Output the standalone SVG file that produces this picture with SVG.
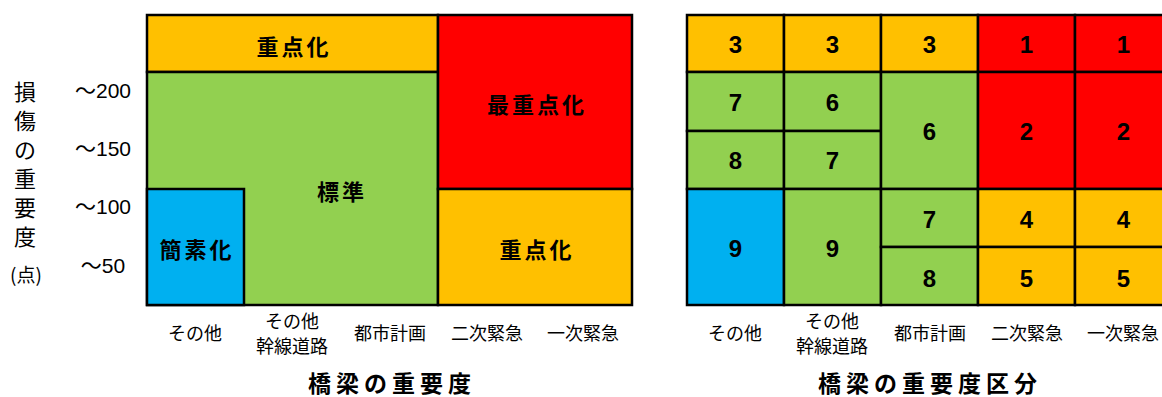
<svg xmlns="http://www.w3.org/2000/svg" width="1162" height="397" viewBox="0 0 1162 397">
<style>
.c{stroke:#000;stroke-width:2.5}
.o{fill:#FFC000}.g{fill:#92D050}.r{fill:#FF0000}.b{fill:#00B0F0}
text{font-family:"Noto Sans CJK JP","Noto Sans",sans-serif;fill:#000;text-anchor:middle;dominant-baseline:central}
.lb{font-size:22px;font-weight:bold;letter-spacing:3px}
.n{font-size:24px;font-weight:bold;font-family:"Liberation Sans Narrow","Liberation Sans","Noto Sans CJK JP",sans-serif}
.ax{font-size:18px}
.yv{font-size:22px}
.tk{font-size:21px;font-family:"Liberation Sans","Noto Sans CJK JP",sans-serif}
.tt{font-size:23px;font-weight:bold;letter-spacing:5px}
</style>
<rect width="1162" height="397" fill="#fff"/>
<g id="yaxis">
<text class="yv" x="25" y="90">損</text>
<text class="yv" x="25" y="119">傷</text>
<text class="yv" x="25" y="148">の</text>
<text class="yv" x="25" y="177">重</text>
<text class="yv" x="25" y="206">要</text>
<text class="yv" x="25" y="235">度</text>
<text x="26" y="273" style="font-size:19px;font-family:'Noto Sans CJK JP',serif">(点)</text>
<text class="tk" x="103" y="90">～200</text>
<text class="tk" x="103" y="148">～150</text>
<text class="tk" x="103" y="206">～100</text>
<text class="tk" x="103" y="265">～50</text>
</g>
<g id="left-chart">
<g id="L-top"><rect class="c o" x="147" y="15" width="291" height="57"/><text class="lb" x="294" y="45">重点化</text></g>
<g id="L-std"><rect class="c g" x="147" y="72" width="291" height="233"/><text class="lb" x="342" y="190">標準</text></g>
<g id="L-simple"><rect class="c b" x="147" y="189" width="97" height="116"/><text class="lb" x="197" y="248">簡素化</text></g>
<g id="L-most"><rect class="c r" x="438" y="15" width="194" height="174"/><text class="lb" x="537" y="103">最重点化</text></g>
<g id="L-imp"><rect class="c o" x="438" y="189" width="194" height="116"/><text class="lb" x="537" y="248">重点化</text></g>
</g>
<g id="left-xaxis">
<text class="ax" x="195" y="332">その他</text>
<text class="ax" x="292" y="320">その他</text>
<text class="ax" x="292" y="345">幹線道路</text>
<text class="ax" x="390" y="332">都市計画</text>
<text class="ax" x="487" y="332">二次緊急</text>
<text class="ax" x="583" y="332">一次緊急</text>
<text class="tt" x="392" y="382">橋梁の重要度</text>
</g>
<g id="right-chart">
<g id="R-c0r0"><rect class="c o" x="687" y="15" width="97" height="57"/><text class="n" x="735.5" y="44">3</text></g>
<g id="R-c1r0"><rect class="c o" x="784" y="15" width="97" height="57"/><text class="n" x="832.5" y="44">3</text></g>
<g id="R-c2r0"><rect class="c o" x="881" y="15" width="97" height="57"/><text class="n" x="929.5" y="44">3</text></g>
<g id="R-c3r0"><rect class="c r" x="978" y="15" width="97" height="57"/><text class="n" x="1026.5" y="44">1</text></g>
<g id="R-c4r0"><rect class="c r" x="1075" y="15" width="97" height="57"/><text class="n" x="1123.5" y="44">1</text></g>
<g id="R-c0r1"><rect class="c g" x="687" y="72" width="97" height="59"/><text class="n" x="735.5" y="102">7</text></g>
<g id="R-c0r2"><rect class="c g" x="687" y="131" width="97" height="58"/><text class="n" x="735.5" y="160">8</text></g>
<g id="R-c0r3"><rect class="c b" x="687" y="189" width="97" height="116"/><text class="n" x="735.5" y="248">9</text></g>
<g id="R-c1r1"><rect class="c g" x="784" y="72" width="97" height="59"/><text class="n" x="832.5" y="102">6</text></g>
<g id="R-c1r2"><rect class="c g" x="784" y="131" width="97" height="58"/><text class="n" x="832.5" y="160">7</text></g>
<g id="R-c1r3"><rect class="c g" x="784" y="189" width="97" height="116"/><text class="n" x="832.5" y="248">9</text></g>
<g id="R-c2r1"><rect class="c g" x="881" y="72" width="97" height="117"/><text class="n" x="929.5" y="131">6</text></g>
<g id="R-c2r3"><rect class="c g" x="881" y="189" width="97" height="58"/><text class="n" x="929.5" y="219">7</text></g>
<g id="R-c2r4"><rect class="c g" x="881" y="247" width="97" height="58"/><text class="n" x="929.5" y="278">8</text></g>
<g id="R-c3r1"><rect class="c r" x="978" y="72" width="97" height="117"/><text class="n" x="1026.5" y="131">2</text></g>
<g id="R-c3r3"><rect class="c o" x="978" y="189" width="97" height="58"/><text class="n" x="1026.5" y="219">4</text></g>
<g id="R-c3r4"><rect class="c o" x="978" y="247" width="97" height="58"/><text class="n" x="1026.5" y="278">5</text></g>
<g id="R-c4r1"><rect class="c r" x="1075" y="72" width="97" height="117"/><text class="n" x="1123.5" y="131">2</text></g>
<g id="R-c4r3"><rect class="c o" x="1075" y="189" width="97" height="58"/><text class="n" x="1123.5" y="219">4</text></g>
<g id="R-c4r4"><rect class="c o" x="1075" y="247" width="97" height="58"/><text class="n" x="1123.5" y="278">5</text></g>
</g>
<g id="right-xaxis">
<text class="ax" x="735" y="332">その他</text>
<text class="ax" x="832" y="320">その他</text>
<text class="ax" x="832" y="345">幹線道路</text>
<text class="ax" x="930" y="332">都市計画</text>
<text class="ax" x="1027" y="332">二次緊急</text>
<text class="ax" x="1123" y="332">一次緊急</text>
<text class="tt" x="930" y="382">橋梁の重要度区分</text>
</g>
</svg>
